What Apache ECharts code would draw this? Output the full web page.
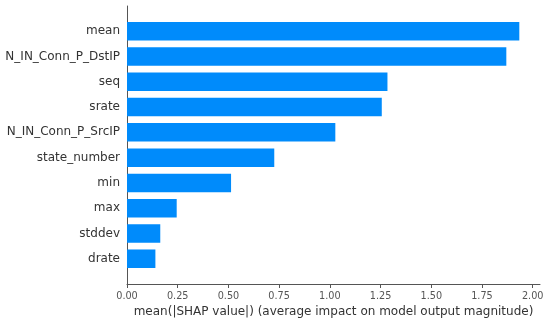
<!DOCTYPE html>
<html>
<head>
<meta charset="utf-8">
<script src="https://cdn.jsdelivr.net/npm/echarts@6/dist/echarts.min.js"></script>
<style>html,body{margin:0;padding:0;background:#fff}#c{width:550px;height:323px}</style>
</head>
<body>
<div id="c"></div>
<script>
const categories = ['mean', 'N_IN_Conn_P_DstIP', 'seq', 'srate', 'N_IN_Conn_P_SrcIP', 'state_number', 'min', 'max', 'stddev', 'drate'];
const values = [1.934, 1.870, 1.284, 1.256, 1.027, 0.726, 0.513, 0.245, 0.164, 0.140];
const xTicks = [0, 0.25, 0.5, 0.75, 1.0, 1.25, 1.5, 1.75, 2.0];
const xTitle = 'mean(|SHAP value|) (average impact on model output magnitude)';

const yCats = [''].concat(categories, [' ']);
const chart = echarts.init(document.getElementById('c'), null, {renderer: 'canvas'});
chart.setOption({
  animation: false,
  grid: {left: 127, right: 10, top: 6, bottom: 38.7, containLabel: false},
  xAxis: {
    type: 'value', min: 0, max: 2.036,
    name: xTitle, nameLocation: 'middle', nameGap: 22,
    nameTextStyle: {fontFamily: 'DejaVu Sans', fontSize: 12, color: '#333'},
    axisLine: {show: true, lineStyle: {color: '#555', width: 1}},
    axisTick: {show: true, length: 4, lineStyle: {color: '#555'}, customValues: xTicks},
    axisLabel: {fontFamily: 'DejaVu Sans', fontSize: 9.7, color: '#555', margin: 7,
      customValues: xTicks, formatter: v => v.toFixed(2)},
    splitLine: {show: false}
  },
  yAxis: {
    type: 'category', data: yCats, inverse: true, boundaryGap: false,
    axisLine: {show: true, lineStyle: {color: '#555', width: 1}},
    axisTick: {show: false},
    axisLabel: {fontFamily: 'DejaVu Sans', fontSize: 12, color: '#333', margin: 7, interval: 0},
    splitLine: {show: false}
  },
  series: [{
    type: 'bar',
    barWidth: 18.5,
    itemStyle: {color: '#008bfb'},
    data: values.map((v, i) => [v, categories[i]])
  }]
});
</script>
</body>
</html>
